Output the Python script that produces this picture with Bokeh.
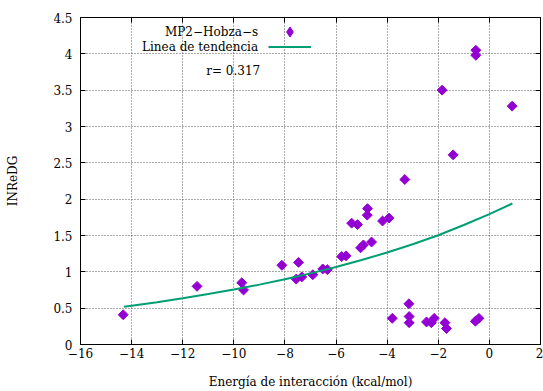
from bokeh.plotting import figure
from bokeh.models import Range1d, FixedTicker, LinearAxis, Legend, LegendItem, Label
from bokeh.embed import file_html
from bokeh.resources import INLINE
import numpy as np

# ---- data ----
energy = [-14.33, -11.44, -9.69, -9.62, -8.12, -7.47, -7.56, -7.34, -6.91,
          -6.52, -6.34, -5.78, -5.61, -5.39, -5.16, -4.77, -4.78, -4.18,
          -3.93, -5.04, -4.93, -4.61, -3.31, -1.42, -1.85, -0.53, -0.53,
          0.89, -3.80, -3.15, -3.14, -3.14, -2.46, -2.27, -2.16, -1.74,
          -1.68, -0.55, -0.41]
inredg = [0.41, 0.80, 0.85, 0.75, 1.09, 1.13, 0.90, 0.93, 0.96,
          1.04, 1.03, 1.21, 1.22, 1.67, 1.65, 1.87, 1.78, 1.70,
          1.74, 1.33, 1.37, 1.41, 2.27, 2.61, 3.50, 4.05, 3.98,
          3.28, 0.36, 0.56, 0.385, 0.30, 0.31, 0.30, 0.36, 0.30,
          0.22, 0.32, 0.36]

trend_x = [-14.3, -14.0, -13.0, -12.0, -11.0, -10.0, -9.0, -8.0, -7.0,
           -6.0, -5.0, -4.0, -3.0, -2.0, -1.0, 0.0, 0.9]
trend_y = [0.520, 0.534, 0.580, 0.635, 0.695, 0.756, 0.824, 0.898, 0.979,
           1.066, 1.162, 1.266, 1.380, 1.503, 1.645, 1.794, 1.940]

x_ticks = [-16, -14, -12, -10, -8, -6, -4, -2, 0, 2]
x_tick_labels = ["\u221216", "\u221214", "\u221212", "\u221210", "\u22128",
                 "\u22126", "\u22124", "\u22122", "0", "2"]
y_ticks = [0, 0.5, 1, 1.5, 2, 2.5, 3, 3.5, 4, 4.5]
y_tick_labels = ["0", "0.5", "1", "1.5", "2", "2.5", "3", "3.5", "4", "4.5"]

series_name = "MP2\u2212Hobza\u2212s"
trend_name = "Linea de tendencia"
r_text = "r= 0.317"

FONT = "DejaVu Serif"
FS = "12px"
PURPLE = "#9400D3"
GREEN = "#009E73"

p = figure(width=543, height=391, output_backend="svg", toolbar_location=None,
           x_range=Range1d(-16, 2), y_range=Range1d(0, 4.5),
           min_border_left=80, min_border_right=3, min_border_top=17,
           min_border_bottom=47)
p.background_fill_color = "white"
p.border_fill_color = "white"
p.outline_line_color = "black"
p.outline_line_width = 1
p.outline_line_alpha = 1

# axes
for ax in (p.xaxis[0], p.yaxis[0]):
    ax.major_label_text_font = FONT
    ax.major_label_text_font_size = FS
    ax.major_label_text_color = "black"
    ax.axis_label_text_font = FONT
    ax.axis_label_text_font_size = FS
    ax.axis_label_text_font_style = "normal"
    ax.axis_label_text_color = "black"
    ax.major_tick_in = 5
    ax.major_tick_out = 0
    ax.minor_tick_in = 0
    ax.minor_tick_out = 0
    ax.axis_line_color = "black"
    ax.major_tick_line_color = "black"

p.xaxis[0].ticker = FixedTicker(ticks=x_ticks)
p.xaxis[0].major_label_overrides = dict(zip(x_ticks, x_tick_labels))
p.yaxis[0].ticker = FixedTicker(ticks=y_ticks)
p.yaxis[0].major_label_overrides = dict(zip(y_ticks, y_tick_labels))
p.xaxis[0].axis_label = "Energía de interacción (kcal/mol)"
p.yaxis[0].axis_label = "INReDG"
p.xaxis[0].major_label_standoff = 3
p.yaxis[0].major_label_standoff = 8
p.xaxis[0].axis_label_standoff = 14
p.yaxis[0].axis_label_standoff = 30

# mirror ticks (no labels)
top = LinearAxis(ticker=FixedTicker(ticks=x_ticks),
                 major_label_overrides={t: "" for t in x_ticks},
                 major_label_text_font_size=FS,
                 major_tick_in=5, major_tick_out=0, minor_tick_in=0, minor_tick_out=0,
                 axis_line_color="black", major_tick_line_color="black",
                 major_label_standoff=0)
right = LinearAxis(ticker=FixedTicker(ticks=y_ticks),
                   major_label_overrides={t: "" for t in y_ticks},
                   major_label_text_font_size=FS,
                   major_tick_in=5, major_tick_out=0, minor_tick_in=0, minor_tick_out=0,
                   axis_line_color="black", major_tick_line_color="black",
                   major_label_standoff=0)
p.add_layout(top, "above")
p.add_layout(right, "right")

# grid
for g in (p.xgrid[0], p.ygrid[0]):
    g.grid_line_color = "#555555"
    g.grid_line_dash = "1 2"
    g.grid_line_width = 1
p.xgrid[0].ticker = FixedTicker(ticks=x_ticks)
p.ygrid[0].ticker = FixedTicker(ticks=y_ticks)

# glyphs
sc = p.scatter(energy, inredg, marker="square", angle=np.pi / 4, size=7,
               fill_color=PURPLE, line_color=PURPLE)
ln = p.line(trend_x, trend_y, line_color=GREEN, line_width=2)
# legend-only sample (diamond shape, not drawn in the plot area)
sc_leg = p.scatter([np.nan], [np.nan], marker="diamond", size=11,
                   fill_color=PURPLE, line_color=PURPLE)

# legends (gnuplot style: text on the left, sample on the right)
common = dict(orientation="vertical", glyph_width=43, label_width=1,
              label_standoff=0, padding=0, spacing=0, margin=0,
              border_line_color=None, background_fill_alpha=0,
              label_text_font_size=FS)
leg1 = Legend(items=[LegendItem(label="", renderers=[sc_leg])],
              location=(188, 300), glyph_height=25, label_height=25, **common)
leg2 = Legend(items=[LegendItem(label="", renderers=[ln])],
              location=(188, 290), glyph_height=15, label_height=15, **common)
p.add_layout(leg1, "center")
p.add_layout(leg2, "center")

for txt, yy, xx in ((series_name, 4.307, -9.05), (trend_name, 4.10, -9.05),
                    (r_text, 3.77, -8.97)):
    p.add_layout(Label(x=xx, y=yy, text=txt, text_align="right",
                       text_baseline="middle", text_font=FONT,
                       text_font_size=FS, text_color="black"))

open("out.html", "w").write(file_html(p, INLINE))
